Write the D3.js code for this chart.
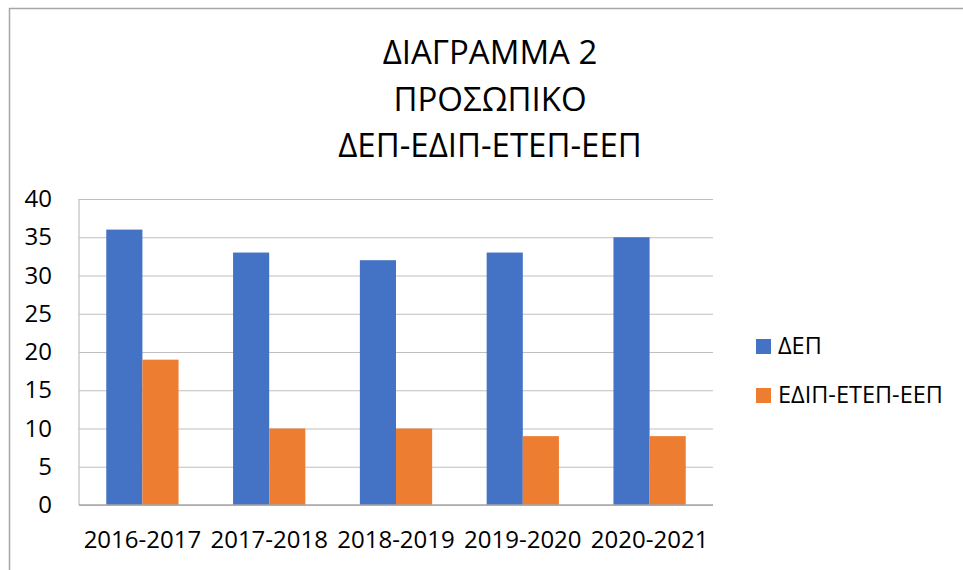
<!DOCTYPE html>
<html>
<head>
<meta charset="utf-8">
<script src="https://d3js.org/d3.v7.min.js"></script>
<title>ΔΙΑΓΡΑΜΜΑ 2</title>
<style>
  body { margin: 0; background: white; }
  svg { display: block; font-family: 'Open Sans', sans-serif; }
</style>
</head>
<body>
<div id="chart"></div>
<script>
const years = ["2016-2017", "2017-2018", "2018-2019", "2019-2020", "2020-2021"];
const seriesNames = ["ΔΕΠ", "ΕΔΙΠ-ΕΤΕΠ-ΕΕΠ"];
const dep = [36, 33, 32, 33, 35];
const edip = [19, 10, 10, 9, 9];
const yTicks = [0, 5, 10, 15, 20, 25, 30, 35, 40];
const titleLines = ["ΔΙΑΓΡΑΜΜΑ 2", "ΠΡΟΣΩΠΙΚΟ", "ΔΕΠ-ΕΔΙΠ-ΕΤΕΠ-ΕΕΠ"];
const colors = ["#4472C4", "#ED7D31"];

const w = 963, h = 570;
const plot = { left: 79, right: 713, top: 199, bottom: 505 };

const svg = d3.select("#chart").append("svg")
    .attr("width", w)
    .attr("height", h);

// chart frame (cut off at right and bottom)
svg.append("rect")
    .attr("x", 9.5).attr("y", 8.5)
    .attr("width", w + 10).attr("height", h + 10)
    .attr("fill", "white")
    .attr("stroke", "#a6a6a6")
    .attr("stroke-width", 1.5);

// title
svg.append("g").selectAll("text")
    .data(titleLines)
    .join("text")
    .attr("x", 490)
    .attr("y", (d, i) => 64 + i * 46.5)
    .attr("text-anchor", "middle")
    .attr("font-size", 33)
    .attr("fill", "#000")
    .text(d => d);

const x0 = d3.scaleBand()
    .domain(years)
    .range([plot.left, plot.right])
    .paddingInner(0.43)
    .paddingOuter(0.215);

const x1 = d3.scaleBand()
    .domain([0, 1])
    .range([0, x0.bandwidth()]);

const y = d3.scaleLinear()
    .domain([0, 40])
    .range([plot.bottom, plot.top]);

// gridlines
svg.append("g")
    .attr("transform", `translate(${plot.left},0)`)
    .call(d3.axisLeft(y).tickValues(yTicks).tickSize(-(plot.right - plot.left)).tickFormat(""))
    .call(g => g.select(".domain").remove())
    .call(g => g.selectAll("line").attr("stroke", "#bfbfbf").attr("stroke-width", 1.2));

// vertical axis line
svg.append("line")
    .attr("x1", plot.left).attr("x2", plot.left)
    .attr("y1", plot.top).attr("y2", plot.bottom)
    .attr("stroke", "#bfbfbf").attr("stroke-width", 1.2);

// y tick labels
svg.append("g")
    .attr("transform", `translate(${plot.left},0)`)
    .call(d3.axisLeft(y).tickValues(yTicks).tickSize(0).tickPadding(27))
    .call(g => g.select(".domain").remove())
    .call(g => g.selectAll("text").attr("font-size", 24).attr("font-family", "'Open Sans', sans-serif").attr("fill", "#000"));

// bars
const data = years.map((yr, i) => ({ yr, vals: [dep[i], edip[i]] }));
svg.append("g").selectAll("g")
    .data(data)
    .join("g")
    .attr("transform", d => `translate(${x0(d.yr)},0)`)
    .selectAll("rect")
    .data(d => d.vals.map((v, k) => ({ k, v })))
    .join("rect")
    .attr("x", d => x1(d.k))
    .attr("y", d => y(d.v))
    .attr("width", x1.bandwidth())
    .attr("height", d => y(0) - y(d.v))
    .attr("fill", d => colors[d.k]);

// zero line
svg.append("line")
    .attr("x1", plot.left).attr("x2", plot.right)
    .attr("y1", y(0)).attr("y2", y(0))
    .attr("stroke", "#a6a6a6").attr("stroke-width", 1.5);

// x labels
svg.append("g")
    .attr("transform", `translate(0,${plot.bottom})`)
    .call(d3.axisBottom(x0).tickSize(0).tickPadding(26))
    .call(g => g.select(".domain").remove())
    .call(g => g.selectAll("text").attr("font-size", 24).attr("font-family", "'Open Sans', sans-serif").attr("fill", "#000"));

// legend
const legend = svg.append("g").selectAll("g")
    .data(seriesNames)
    .join("g")
    .attr("transform", (d, i) => `translate(756,${339 + i * 49})`);
legend.append("rect")
    .attr("width", 15).attr("height", 15)
    .attr("fill", (d, i) => colors[i]);
legend.append("text")
    .attr("x", 22).attr("y", 15)
    .attr("font-size", 23.5)
    .attr("fill", "#000")
    .text(d => d);
</script>
</body>
</html>
